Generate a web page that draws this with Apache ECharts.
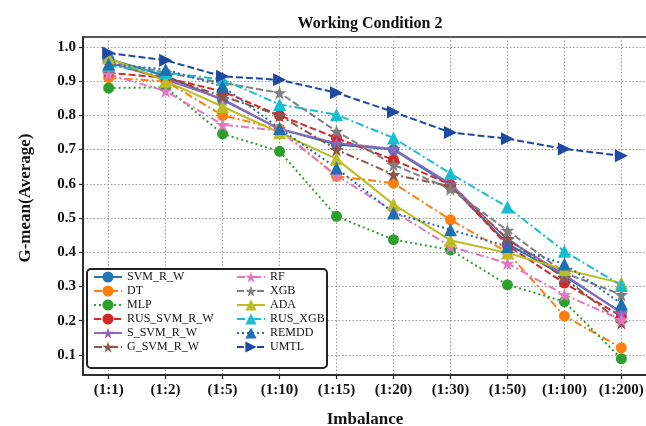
<!DOCTYPE html>
<html>
<head>
<meta charset="utf-8">
<style>
  html, body { margin: 0; padding: 0; background: #ffffff; }
  #chart { width: 646px; height: 426px; }
</style>
<script src="https://cdn.jsdelivr.net/npm/echarts@6/dist/echarts.min.js"></script>
</head>
<body>
<div id="chart"></div>
<script>
// Imbalance ratios on the x axis
const categories = ['(1:1)', '(1:2)', '(1:5)', '(1:10)', '(1:15)', '(1:20)', '(1:30)', '(1:50)', '(1:100)', '(1:200)'];
const yTicks = [0.1, 0.2, 0.3, 0.4, 0.5, 0.6, 0.7, 0.8, 0.9, 1.0];

// G-mean (average) per method
const SVM_R_W     = [0.965, 0.915, 0.845, 0.760, 0.715, 0.700, 0.595, 0.425, 0.330, 0.225];
const DT          = [0.910, 0.900, 0.800, 0.760, 0.622, 0.602, 0.495, 0.400, 0.214, 0.121];
const MLP         = [0.880, 0.882, 0.746, 0.695, 0.505, 0.437, 0.407, 0.305, 0.256, 0.089];
const RUS_SVM_R_W = [0.924, 0.910, 0.870, 0.800, 0.734, 0.670, 0.598, 0.420, 0.310, 0.213];
const S_SVM_R_W   = [0.955, 0.905, 0.848, 0.760, 0.719, 0.702, 0.600, 0.437, 0.335, 0.222];
const G_SVM_R_W   = [0.950, 0.910, 0.856, 0.800, 0.700, 0.627, 0.593, 0.440, 0.325, 0.194];
const RF          = [0.920, 0.871, 0.773, 0.755, 0.625, 0.520, 0.417, 0.368, 0.276, 0.203];
const XGB         = [0.958, 0.925, 0.895, 0.866, 0.753, 0.656, 0.585, 0.464, 0.340, 0.276];
const ADA         = [0.968, 0.900, 0.826, 0.749, 0.673, 0.540, 0.435, 0.398, 0.350, 0.310];
const RUS_XGB     = [0.945, 0.925, 0.905, 0.832, 0.802, 0.734, 0.630, 0.532, 0.403, 0.303];
const REMDD       = [0.950, 0.934, 0.885, 0.762, 0.646, 0.515, 0.466, 0.417, 0.366, 0.250];
const UMTL        = [0.982, 0.961, 0.914, 0.904, 0.866, 0.810, 0.750, 0.732, 0.702, 0.682];

const FONT = '"Liberation Serif", "Times New Roman", serif';
const STAR = 'path://M50,0 L61,35 L98,35 L68,57 L79,91 L50,70 L21,91 L32,57 L2,35 L39,35 Z';
const DASH = [7, 3];
const DASHDOT = [8, 3, 2, 3];
const DOT = [2, 3];

const styles = [
  { name: 'SVM_R_W',     data: SVM_R_W,     color: '#1f77b4', type: 'solid', symbol: 'circle', size: 11 },
  { name: 'DT',          data: DT,          color: '#ff7f0e', type: DASHDOT, symbol: 'circle', size: 11 },
  { name: 'MLP',         data: MLP,         color: '#2ca02c', type: DOT,     symbol: 'circle', size: 11 },
  { name: 'RUS_SVM_R_W', data: RUS_SVM_R_W, color: '#d62728', type: DASH,    symbol: 'circle', size: 11 },
  { name: 'S_SVM_R_W',   data: S_SVM_R_W,   color: '#9467bd', type: 'solid', symbol: STAR,     size: 14 },
  { name: 'G_SVM_R_W',   data: G_SVM_R_W,   color: '#8c564b', type: DASHDOT, symbol: STAR,     size: 14 },
  { name: 'RF',          data: RF,          color: '#e377c2', type: DASHDOT, symbol: STAR,     size: 14 },
  { name: 'XGB',         data: XGB,         color: '#7f7f7f', type: DASH,    symbol: STAR,     size: 14 },
  { name: 'ADA',         data: ADA,         color: '#bcbd22', type: 'solid', symbol: 'triangle', size: 13 },
  { name: 'RUS_XGB',     data: RUS_XGB,     color: '#17becf', type: DASHDOT, symbol: 'triangle', size: 13 },
  { name: 'REMDD',       data: REMDD,       color: '#1f6fb2', type: DOT,     symbol: 'triangle', size: 13 },
  { name: 'UMTL',        data: UMTL,        color: '#1d48a3', type: DASH,    symbol: 'triangle', size: 13, rotate: -90 }
];

const series = styles.map(s => ({
  name: s.name,
  type: 'line',
  data: s.data.map((v, i) => [i, v]),
  symbol: s.symbol,
  symbolSize: s.size,
  symbolRotate: s.rotate || 0,
  showSymbol: true,
  animation: false,
  itemStyle: { color: s.color, borderColor: s.color, borderWidth: 0, opacity: 1 },
  lineStyle: { color: s.color, width: 2, type: s.type }
}));

const legendBase = {
  orient: 'vertical',
  top: 271,
  itemWidth: 28,
  itemHeight: 14,
  itemGap: 2,
  padding: 0,
  textStyle: { fontFamily: FONT, fontSize: 12, color: '#111' },
  z: 6
};

const xVals = categories.map((c, i) => i);

const option = {
  animation: false,
  backgroundColor: '#ffffff',
  title: {
    text: 'Working Condition 2',
    left: 365, textAlign: 'center', top: 11,
    textStyle: { fontFamily: FONT, fontWeight: 'bold', fontSize: 16, color: '#111' }
  },
  grid: {
    left: 83, right: -1, top: 37, bottom: 51,
    outerBoundsMode: 'none',
    containLabel: false,
    show: true, borderColor: '#222', borderWidth: 1.5, backgroundColor: 'transparent'
  },
  xAxis: {
    type: 'value',
    min: -0.45, max: 9.45,
    name: 'Imbalance',
    nameLocation: 'middle',
    nameGap: 36,
    nameTextStyle: { fontFamily: FONT, fontWeight: 'bold', fontSize: 17, color: '#111' },
    axisLine: { show: true, onZero: false, lineStyle: { color: '#222', width: 1.5 } },
    axisTick: { show: true, inside: false, length: 4, customValues: xVals, lineStyle: { color: '#222', width: 1.2 } },
    axisLabel: {
      customValues: xVals, margin: 8,
      fontFamily: FONT, fontWeight: 'bold', fontSize: 15, color: '#111',
      formatter: v => categories[Math.round(v)]
    },
    splitLine: { show: true, lineStyle: { color: '#999', width: 1, type: [1.5, 2] } }
  },
  yAxis: {
    type: 'value',
    min: 0.0415, max: 1.029,
    name: 'G-mean(Average)',
    nameLocation: 'middle',
    nameGap: 49,
    nameTextStyle: { fontFamily: FONT, fontWeight: 'bold', fontSize: 17, color: '#111', padding: [0, 0, 0, 16] },
    axisLine: { show: true, onZero: false, lineStyle: { color: '#222', width: 1.5 } },
    axisTick: { show: true, inside: false, length: 4, customValues: yTicks, lineStyle: { color: '#222', width: 1.2 } },
    axisLabel: {
      customValues: yTicks, margin: 7,
      fontFamily: FONT, fontWeight: 'bold', fontSize: 15, color: '#111',
      formatter: v => v.toFixed(1)
    },
    splitLine: { show: true, lineStyle: { color: '#999', width: 1, type: [1.5, 2] } }
  },
  legend: [
    Object.assign({}, legendBase, { left: 93, data: styles.slice(0, 6).map(s => s.name) }),
    Object.assign({}, legendBase, { left: 236, data: styles.slice(6).map(s => s.name) })
  ],
  graphic: [{
    type: 'rect',
    shape: { x: 87, y: 269, width: 240, height: 99, r: 4 },
    style: { fill: '#ffffff', stroke: '#222', lineWidth: 2 },
    z: 5
  }],
  series: series
};

const chart = echarts.init(document.getElementById('chart'), null, { renderer: 'canvas' });
chart.setOption(option);
</script>
</body>
</html>
